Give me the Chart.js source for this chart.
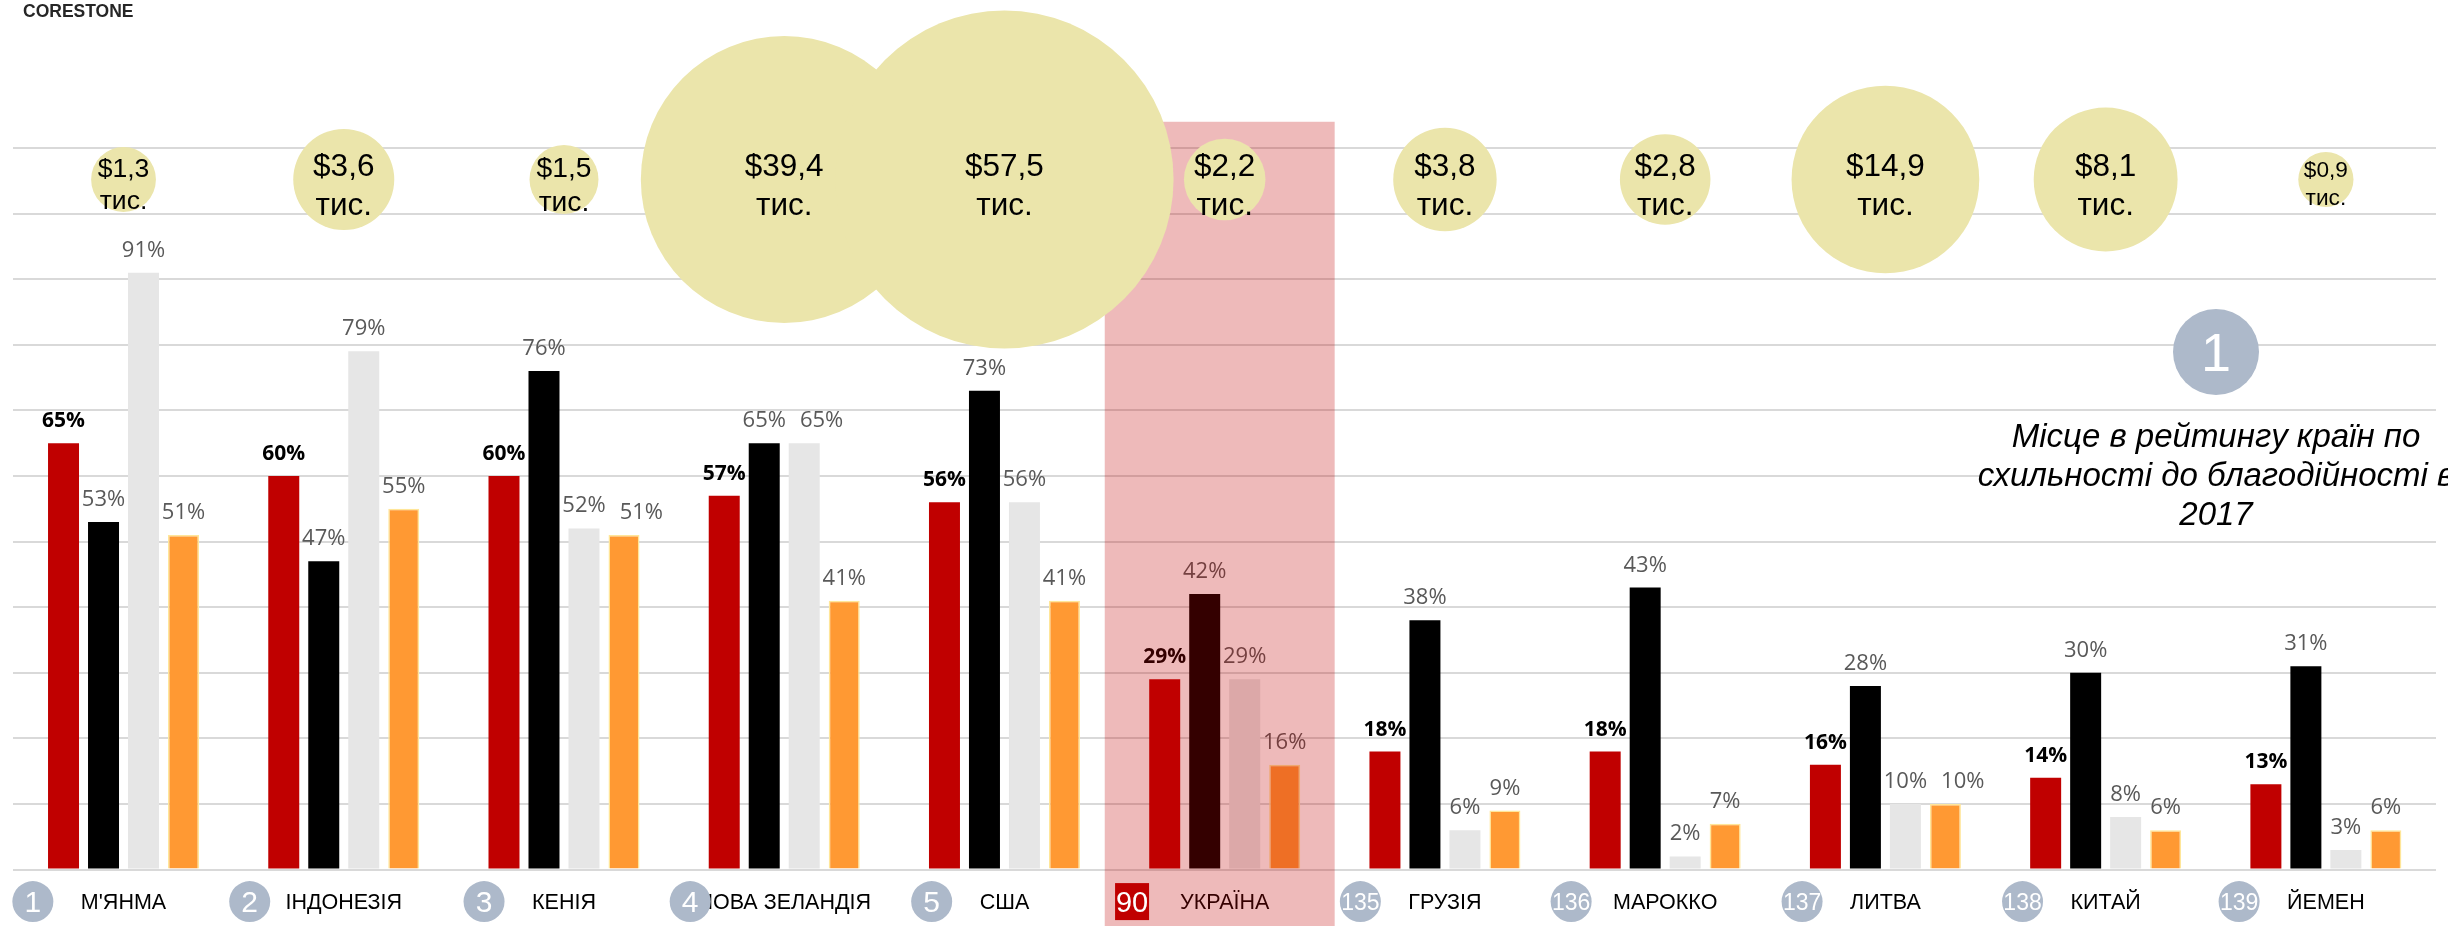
<!DOCTYPE html>
<html lang="uk">
<head>
<meta charset="utf-8">
<title>Схильність до благодійності та ВВП на душу населення</title>
<script src="https://cdn.jsdelivr.net/npm/chart.js@4.4.1/dist/chart.umd.min.js"></script>
<style>
  html, body { margin: 0; padding: 0; background: #fff; }
  #chart { display: block; }
</style>
</head>
<body>
<canvas id="chart" width="2448" height="926"></canvas>
<script>
// countries, their place in the 2017 giving ranking and GDP per capita (thousand $)
const countries = ["М'ЯНМА", 'ІНДОНЕЗІЯ', 'КЕНІЯ', 'НОВА ЗЕЛАНДІЯ', 'США', 'УКРАЇНА', 'ГРУЗІЯ', 'МАРОККО', 'ЛИТВА', 'КИТАЙ', 'ЙЕМЕН'];
const ranks = [1, 2, 3, 4, 5, 90, 135, 136, 137, 138, 139];
const gdpPerCapita = [1.3, 3.6, 1.5, 39.4, 57.5, 2.2, 3.8, 2.8, 14.9, 8.1, 0.9];

// shares of people, %
const givingScore = [65, 60, 60, 57, 56, 29, 18, 18, 16, 14, 13];
const helpedStranger = [53, 47, 76, 65, 73, 42, 38, 43, 28, 30, 31];
const donatedMoney = [91, 79, 52, 65, 56, 29, 6, 2, 10, 8, 3];
const volunteeredTime = [51, 55, 51, 41, 41, 16, 9, 7, 10, 6, 6];

const highlighted = 'УКРАЇНА';
const noteLines = ['Місце в рейтингу країн по', 'схильності до благодійності в', '2017'];

const RED = '#C00000';
const BADGE = '#ADB9CA';
const SANS = '"Liberation Sans", Arial, sans-serif';
const LABEL_FONT = '"Open Sans", "Noto Sans", sans-serif';
const BUBBLE_LEVEL = 105.2;

const fmtGdp = (v) => '$' + v.toFixed(1).replace('.', ',');
const bubbleRadius = (v) => 28.9 * Math.pow(v, 0.436);

function drawBarLabels(chart) {
  const { ctx } = chart;
  const placed = countries.map(() => []);
  ctx.save();
  ctx.textAlign = 'center';
  ctx.textBaseline = 'alphabetic';
  chart.data.datasets.forEach((ds, di) => {
    if (ds.type === 'bubble') return;
    const bold = di === 0;
    const size = bold ? 21 : 22;
    ctx.font = (bold ? 'bold ' : '') + size + 'px ' + LABEL_FONT;
    ctx.fillStyle = bold ? '#000' : '#595959';
    chart.getDatasetMeta(di).data.forEach((bar, i) => {
      const text = ds.data[i] + '%';
      const w = ctx.measureText(text).width;
      const h = size * 0.72;
      const y = bar.y - 16;
      let x = bar.x;
      // push a label to the right when it runs into its neighbour
      placed[i].forEach((b) => {
        const hitY = y > b.y - b.h && y - h < b.y;
        if (hitY && x - w / 2 < b.x + b.w / 2) x = b.x + b.w / 2 + 14 + w / 2;
      });
      placed[i].push({ x, y, w, h });
      ctx.fillText(text, x, y);
    });
  });
  ctx.restore();
}

function drawHighlight(chart) {
  const { ctx, scales: { x, y } } = chart;
  const i = countries.indexOf(highlighted);
  const step = x.width / countries.length;
  const cx = x.getPixelForValue(i) - 5;
  const top = y.getPixelForValue(114);
  ctx.save();
  ctx.fillStyle = 'rgba(192, 0, 0, 0.27)';
  ctx.fillRect(cx - step * 0.522, top, step * 1.044, chart.height - top);
  ctx.restore();
}

function drawBubbleText(chart) {
  const { ctx } = chart;
  const idx = chart.data.datasets.findIndex((d) => d.type === 'bubble');
  ctx.save();
  ctx.fillStyle = '#000';
  ctx.textAlign = 'center';
  ctx.textBaseline = 'alphabetic';
  chart.getDatasetMeta(idx).data.forEach((pt, i) => {
    const fs = Math.min(31.5, pt.options.radius * 0.82);
    ctx.font = fs + 'px ' + SANS;
    ctx.fillText(fmtGdp(gdpPerCapita[i]), pt.x, pt.y - 0.1 * fs);
    ctx.fillText('тис.', pt.x, pt.y + 1.12 * fs);
  });
  ctx.restore();
}

function drawRankBadges(chart) {
  const { ctx, chartArea, scales: { x } } = chart;
  const step = x.width / countries.length;
  const cy = chartArea.bottom + 32;
  ctx.save();
  ctx.textAlign = 'center';
  ctx.textBaseline = 'alphabetic';
  countries.forEach((name, i) => {
    ctx.font = '21.5px ' + SANS;
    const cx = x.getPixelForValue(i);
    const left = cx - ctx.measureText(name).width / 2;
    const bx = Math.max(left - 48, cx - 0.427 * step);
    const label = String(ranks[i]);
    const fs = label.length === 1 ? 30 : label.length === 2 ? 29 : 23;
    if (name === highlighted) {
      ctx.fillStyle = RED;
      ctx.fillRect(bx - 17, cy - 18.5, 34, 37);
    } else {
      ctx.fillStyle = BADGE;
      ctx.beginPath();
      ctx.arc(bx, cy, 20.5, 0, Math.PI * 2);
      ctx.fill();
    }
    ctx.fillStyle = '#fff';
    ctx.font = fs + 'px ' + SANS;
    ctx.fillText(label, bx, cy + fs * 0.358);
  });
  ctx.restore();
}

function drawNote(chart) {
  const { ctx, chartArea } = chart;
  const cx = chartArea.right - 220;
  ctx.save();
  ctx.fillStyle = '#fff';
  ctx.fillRect(1980, 418, chart.width - 1980, 118);
  ctx.fillStyle = BADGE;
  ctx.beginPath();
  ctx.arc(cx, 352, 43, 0, Math.PI * 2);
  ctx.fill();
  ctx.textAlign = 'center';
  ctx.fillStyle = '#fff';
  ctx.font = '54px ' + SANS;
  ctx.fillText('1', cx, 352 + 54 * 0.358);
  ctx.fillStyle = '#000';
  ctx.font = 'italic 33px ' + SANS;
  noteLines.forEach((line, k) => ctx.fillText(line, cx, 447 + k * 39));
  ctx.restore();
}

function drawLogo(chart) {
  const { ctx } = chart;
  ctx.save();
  ctx.fillStyle = '#262626';
  ctx.font = 'bold 17.5px ' + SANS;
  ctx.textAlign = 'left';
  ctx.fillText('CORESTONE', 23, 17, 113);
  ctx.restore();
}

const decor = {
  id: 'decor',
  beforeDatasetDraw(chart, args) {
    if (args.meta.type !== 'bubble') return;
    drawBarLabels(chart);
    drawHighlight(chart);
  },
  afterDatasetsDraw(chart) {
    drawBubbleText(chart);
    drawRankBadges(chart);
    drawNote(chart);
    drawLogo(chart);
  }
};

const barDefaults = { order: 1, categoryPercentage: 0.7264, barPercentage: 0.775 };

new Chart(document.getElementById('chart'), {
  type: 'bar',
  data: {
    labels: countries,
    datasets: [
      { ...barDefaults, label: 'Індекс благодійності', data: givingScore, backgroundColor: RED },
      { ...barDefaults, label: 'Допомогли незнайомцю', data: helpedStranger, backgroundColor: '#000000' },
      { ...barDefaults, label: 'Пожертвували гроші', data: donatedMoney, backgroundColor: '#E6E6E6' },
      { ...barDefaults, label: 'Волонтерили', data: volunteeredTime, backgroundColor: '#FF9933',
        borderColor: '#FFE699', borderWidth: 1.5 },
      {
        type: 'bubble',
        label: 'ВВП на душу населення, тис. $',
        data: countries.map((c) => ({ x: c, y: BUBBLE_LEVEL })),
        backgroundColor: '#EBE5AB',
        borderWidth: 0,
        radius: (c) => (c.dataIndex === undefined ? 0 : bubbleRadius(gdpPerCapita[c.dataIndex])),
        clip: false,
        order: 0
      }
    ]
  },
  options: {
    responsive: false,
    devicePixelRatio: 1,
    animation: false,
    events: [],
    layout: { autoPadding: false, padding: { left: 13.4, right: 12, top: 148, bottom: 0 } },
    plugins: { legend: { display: false }, tooltip: { enabled: false } },
    scales: {
      x: {
        grid: { display: false },
        border: { display: false },
        ticks: { color: '#000', font: { family: SANS, size: 21.5 }, padding: 13, maxRotation: 0, autoSkip: false },
        afterFit(scale) { scale.height = 56.4; }
      },
      y: {
        min: 0,
        max: 110,
        ticks: { display: false, stepSize: 10 },
        grid: { color: '#D9D9D9', lineWidth: 2, drawTicks: false },
        border: { display: false },
        afterFit(scale) { scale.width = 0; }
      }
    }
  },
  plugins: [decor]
});
</script>
</body>
</html>
